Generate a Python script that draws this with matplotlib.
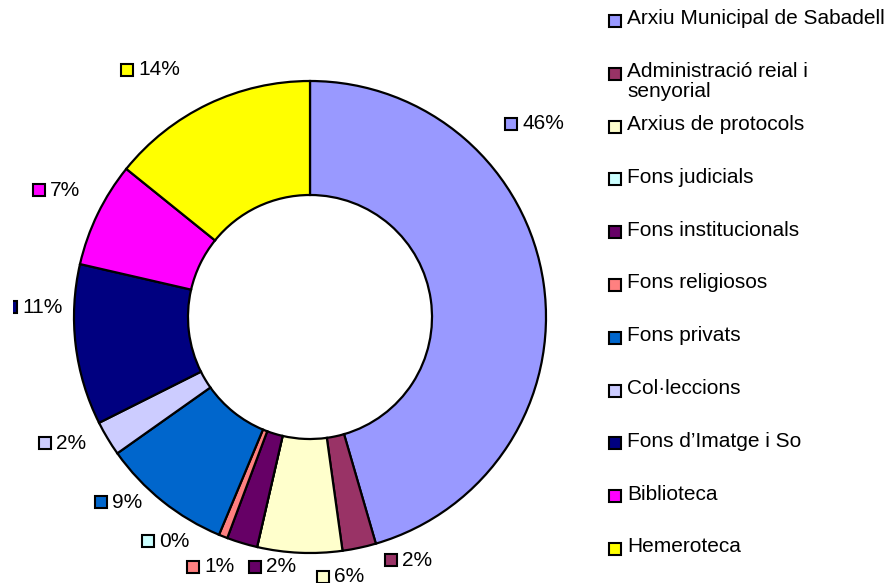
import matplotlib
matplotlib.use("Agg")
import matplotlib.pyplot as plt
from matplotlib.patches import Rectangle

plt.rcParams['font.family'] = ['Liberation Sans', 'DejaVu Sans']

categories = ["Arxiu Municipal de Sabadell", "Administració reial i\nsenyorial",
              "Arxius de protocols", "Fons judicials", "Fons institucionals",
              "Fons religiosos", "Fons privats", "Col·leccions",
              "Fons d’Imatge i So", "Biblioteca", "Hemeroteca"]
values = [45.5, 2.3, 5.8, 0.0, 2.1, 0.6, 8.9, 2.4, 11.0, 7.2, 14.2]
colors = ["#9999FF", "#993366", "#FFFFCC", "#CCFFFF", "#660066", "#FF8080",
          "#0066CC", "#CCCCFF", "#000080", "#FF00FF", "#FFFF00"]

# label anchor positions (marker centre) in pie data units
label_pos = [(0.852, 0.818), (0.345, -1.030), (0.055, -1.100), (-0.686, -0.950),
             (-0.233, -1.059), (-0.496, -1.059), (-0.885, -0.786), (-1.123, -0.536),
             (-1.265, 0.042), (-1.148, 0.538), (-0.775, 1.047)]

W, H = 893, 583
fig = plt.figure(figsize=(W / 100, H / 100), dpi=100)
R = 236.0
cx, cy = 310.0, 317.0
left_px = 13.0
ax = fig.add_axes([left_px / W, 0, (620 - left_px) / W, 1])
ax.pie(values, colors=colors, startangle=90, counterclock=False, radius=1.0,
       wedgeprops=dict(width=0.483, edgecolor='black', linewidth=1.6))
ax.set_xlim(-(cx - left_px) / R, (620 - cx) / R)
ax.set_ylim(-(H - cy) / R, cy / R)
ax.set_aspect('auto')
ax.axis('off')

fs = 15
msz = 12 / R
for (x, y), v, c in zip(label_pos, values, colors):
    ax.add_patch(Rectangle((x - msz / 2, y - msz / 2), msz, msz, facecolor=c,
                           edgecolor='black', linewidth=1.5, clip_on=True))
    ax.text(x + 11 / R, y, f"{v:.0f}%", fontsize=fs, va='center', ha='left')

# legend
lax = fig.add_axes([0, 0, 1, 1])
lax.set_xlim(0, W)
lax.set_ylim(H, 0)
lax.axis('off')
for i, (lab, c) in enumerate(zip(categories, colors)):
    y = 21 + i * 52.8
    lax.add_patch(Rectangle((615 - 6, y - 6), 12, 12, facecolor=c,
                            edgecolor='black', linewidth=1.5))
    lax.text(627, y - 11.5, lab, fontsize=fs, va='top', ha='left', linespacing=1.08)

fig.savefig("out.png", dpi=100)
